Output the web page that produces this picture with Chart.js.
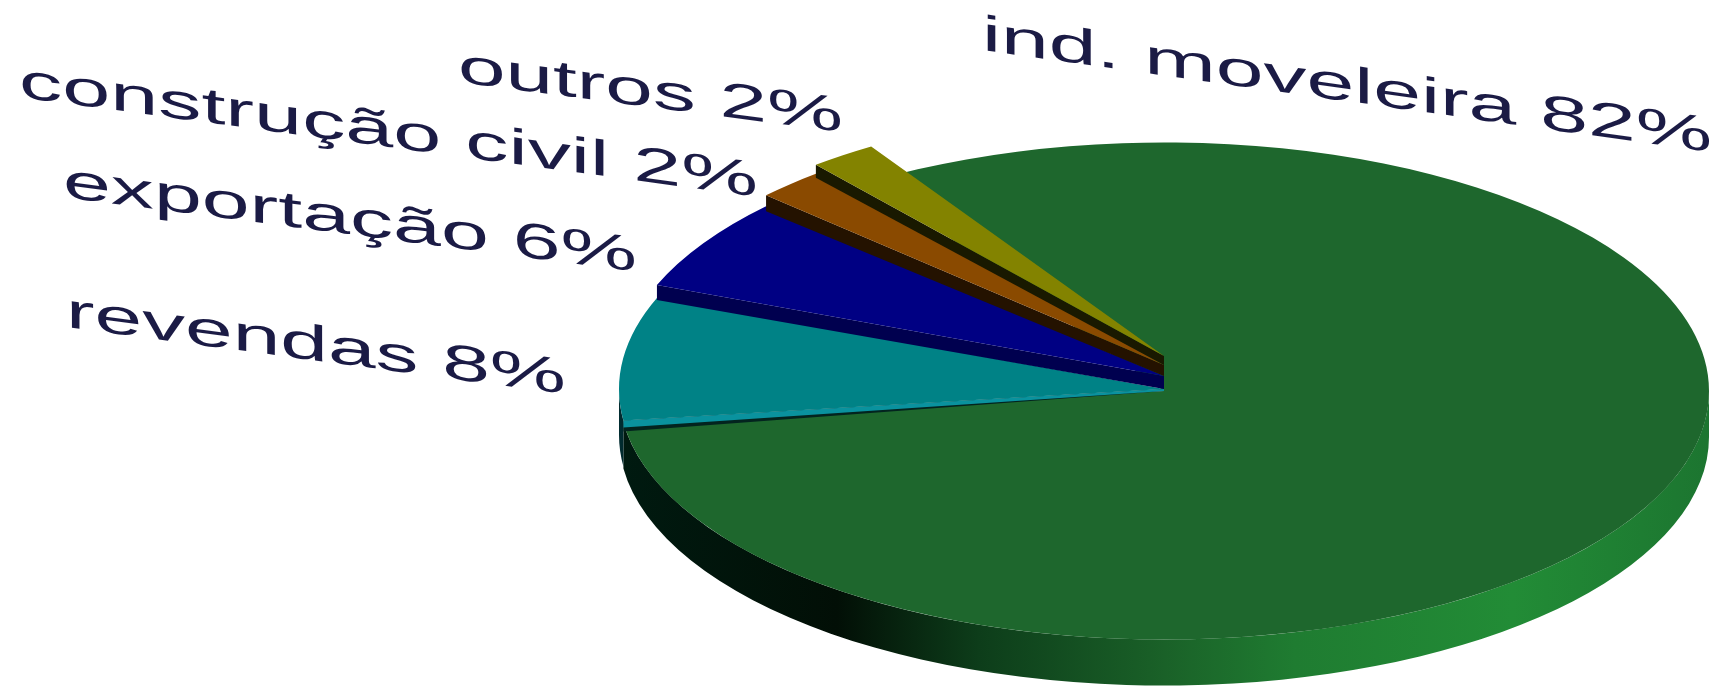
<!DOCTYPE html>
<html lang="pt">
<head>
<meta charset="utf-8">
<title>Mercados</title>
<style>
  html, body { margin: 0; padding: 0; background: #fff; }
  #wrap { width: 1734px; height: 687px; }
</style>
<script src="https://cdn.jsdelivr.net/npm/chart.js@4/dist/chart.umd.js"></script>
</head>
<body>
<div id="wrap"><canvas id="pie" width="1734" height="687"></canvas></div>
<script>
const categories = ["ind. moveleira", "revendas", "exportação", "construção civil", "outros"]
const shares     = [82, 8, 6, 2, 2]

const sliceColors = ["#1e672d", "#008286", "#000083", "#8a4a00", "#838300"]

// Pie tilt: height of the ellipse over its width, and thickness of the disc
const TILT  = 0.456
const DEPTH = 46

// Each small slice sits a little higher than the one in front of it
const sliceLift = [0, 2, 15, 26, 35]

// Dark face under the lower edge of each slice, narrowing towards the centre
const sliceEdges = [
  [],
  [["#03241f", 11], ["#0a929e", 7]],
  [["#00004f", 15]],
  [["#241200", 16]],
  [["#191900", 13]]
]

const labelBoxes = [
  { x: 982, y: 50,  width: 730, slope: 0.140 },
  { x: 66,  y: 327, width: 500, slope: 0.134 },
  { x: 63,  y: 197, width: 574, slope: 0.130 },
  { x: 19,  y: 97,  width: 739, slope: 0.135 },
  { x: 458, y: 82,  width: 385, slope: 0.130 }
]

const LABEL_FONT  = "50px 'Liberation Sans', Arial, sans-serif"
const LABEL_COLOR = "#1b1b45"

// ── Tilted pie controller ──────────────────────────────────────────────────

class TiltedPieController extends Chart.PieController {
  static id = "tiltedPie"

  update(mode) {
    super.update(mode)
    const arcs = this.getMeta().data
    this.centerY = arcs[0].y
    arcs.forEach((arc, i) => { arc.y -= sliceLift[i] / TILT })
  }

  draw() {
    const ctx  = this.chart.ctx
    const arcs = this.getMeta().data
    arcs.forEach((arc, i) => {
      this.#drawRim(ctx, arc, i)
      if (i > 0) this.#drawEdges(ctx, arc, arcs[i - 1], i)
      ctx.save()
      ctx.translate(0, this.centerY)
      ctx.scale(1, TILT)
      ctx.translate(0, -this.centerY)
      arc.draw(ctx, this.chart.chartArea)
      ctx.restore()
    })
  }

  #screenY(arc) {
    return this.centerY + (arc.y - this.centerY) * TILT
  }

  #rimFill(ctx, arc, i) {
    const left  = arc.x - arc.outerRadius
    const right = arc.x + arc.outerRadius
    const grad  = ctx.createLinearGradient(left, 0, right, 0)
    if (i === 0) {
      grad.addColorStop(0,    "#001a10")
      grad.addColorStop(0.2,  "#020f06")
      grad.addColorStop(0.33, "#0d3d1a")
      grad.addColorStop(0.5,  "#1a6128")
      grad.addColorStop(0.62, "#1f7c31")
      grad.addColorStop(0.82, "#228c36")
      grad.addColorStop(1,    "#1c7530")
    } else {
      grad.addColorStop(0,    "#012c30")
      grad.addColorStop(0.08, "#000c0c")
      grad.addColorStop(1,    "#000c0c")
    }
    return grad
  }

  // Outer wall, only where the rim faces the viewer
  #drawRim(ctx, arc, i) {
    const y = this.#screenY(arc)
    const r = arc.outerRadius
    for (let turn = 0; turn < 2; turn++) {
      const from = Math.max(arc.startAngle, turn * 2 * Math.PI)
      const to   = Math.min(arc.endAngle, turn * 2 * Math.PI + Math.PI)
      if (to <= from) continue
      ctx.beginPath()
      ctx.ellipse(arc.x, y, r, r * TILT, 0, from, to)
      ctx.ellipse(arc.x, y + DEPTH, r, r * TILT, 0, to, from, true)
      ctx.closePath()
      ctx.fillStyle = this.#rimFill(ctx, arc, i)
      ctx.fill()
    }
  }

  // Cut face between this slice and the lower one before it
  #drawEdges(ctx, arc, prev, i) {
    const y  = this.#screenY(arc)
    const cx = arc.x + Math.cos(arc.startAngle) * arc.outerRadius
    const cy = y + Math.sin(arc.startAngle) * arc.outerRadius * TILT
    sliceEdges[i].forEach(([color, depth]) => {
      ctx.beginPath()
      ctx.moveTo(arc.x, y)
      ctx.lineTo(cx, cy)
      ctx.lineTo(cx, cy + depth)
      ctx.lineTo(prev.x, this.#screenY(prev))
      ctx.closePath()
      ctx.fillStyle = color
      ctx.fill()
    })
  }
}

Chart.register(TiltedPieController)

// ── Slanted slice labels ───────────────────────────────────────────────────

const slantedLabels = {
  id: "slantedLabels",
  afterDraw(chart) {
    const ctx = chart.ctx
    ctx.save()
    ctx.font = LABEL_FONT
    ctx.fillStyle = LABEL_COLOR
    ctx.textBaseline = "alphabetic"
    categories.forEach((name, i) => {
      const text = `${name} ${shares[i]}%`
      const box  = labelBoxes[i]
      const sx   = box.width / ctx.measureText(text).width
      ctx.save()
      ctx.transform(sx, sx * box.slope, 0, 1, box.x, box.y)
      ctx.fillText(text, 0, 0)
      ctx.restore()
    })
    ctx.restore()
  }
}

new Chart(document.getElementById("pie"), {
  type: "tiltedPie",
  plugins: [slantedLabels],
  data: {
    labels: categories,
    datasets: [{
      data: shares,
      backgroundColor: sliceColors,
      borderWidth: 0,
      radius: 545,
      rotation: 327.5,
      clip: false
    }]
  },
  options: {
    responsive: false,
    animation: false,
    events: [],
    layout: { padding: { left: 594, top: 95 } },
    plugins: { legend: { display: false }, tooltip: { enabled: false } }
  }
})
</script>
</body>
</html>
